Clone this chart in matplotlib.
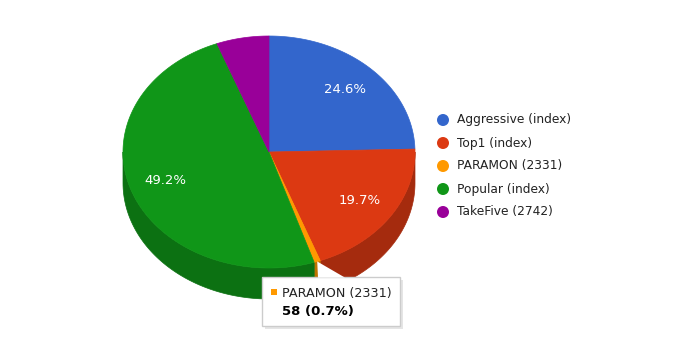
import numpy as np
import matplotlib
matplotlib.use("Agg")
import matplotlib.pyplot as plt
from matplotlib.patches import Polygon, Circle, Rectangle
from matplotlib.colors import to_rgb

names = ['Aggressive (index)', 'Top1 (index)', 'PARAMON (2331)', 'Popular (index)', 'TakeFive (2742)']
values = [2038, 1632, 58, 4077, 481]
colors = ['#3366cc', '#dc3912', '#ff9900', '#109618', '#990099']

# ellipse geometry in pixels
cx, cy, rx, ry, depth = 269, 152, 146, 116, 31

fig = plt.figure(figsize=(6.78, 3.56), dpi=100)
ax = fig.add_axes([0, 0, 1, 1])
ax.set_xlim(0, 678)
ax.set_ylim(356, 0)
ax.axis('off')

def pt(th, dy=0):
    return cx + rx * np.sin(th), cy - ry * np.cos(th) + dy

def dark(c, f=0.75):
    r, g, b = to_rgb(c)
    return (r * f, g * f, b * f)

total = sum(values)
fr = np.array(values) / total
ends = np.cumsum(fr) * 2 * np.pi
starts = ends - fr * 2 * np.pi

# side walls (visible front half only)
for s, e, c in zip(starts, ends, colors):
    a, b = max(s, np.pi / 2), min(e, 3 * np.pi / 2)
    if b <= a:
        continue
    th = np.linspace(a, b, 80)
    top = [pt(t) for t in th]
    bot = [pt(t, depth) for t in th[::-1]]
    ax.add_patch(Polygon(top + bot, closed=True, facecolor=dark(c), edgecolor=dark(c), lw=0.5))

# top faces
for s, e, c in zip(starts, ends, colors):
    th = np.linspace(s, e, max(4, int((e - s) * 60)))
    pts = [(cx, cy)] + [pt(t) for t in th]
    ax.add_patch(Polygon(pts, closed=True, facecolor=c, edgecolor=c, lw=0.5))

# percentage labels
for s, e, f in zip(starts, ends, fr):
    if f < 0.1:
        continue
    m = (s + e) / 2
    x = cx + 0.75 * rx * np.sin(m)
    y = cy - 0.75 * ry * np.cos(m)
    ax.text(x, y, f'{f * 100:.1f}%', color='white', fontsize=9.5,
            ha='center', va='center')

# legend
for i, (n, c) in enumerate(zip(names, colors)):
    y = 120 + i * 23
    ax.add_patch(Circle((443, y), 6, facecolor=c, edgecolor='none'))
    ax.text(457, y, n, fontsize=8.8, color='#222222', ha='left', va='center')

# tooltip for the hovered slice
k = 2
ax.add_patch(Rectangle((265, 280), 138, 49, facecolor='#cccccc', edgecolor='none', alpha=0.5))
ax.add_patch(Rectangle((262, 277), 138, 49, facecolor='white', edgecolor='#cccccc', lw=1))
tip = pt((starts[k] + ends[k]) / 2)
ax.add_patch(Polygon([tip, (345, 277.6), (318, 277.6)], closed=True,
                     facecolor='white', edgecolor='none'))
ax.add_patch(Rectangle((271, 289), 6, 6, facecolor=colors[k], edgecolor='none'))
ax.text(282, 293, names[k], fontsize=9.2, color='#222222', ha='left', va='center')
ax.text(282, 311, f'{values[k]} ({fr[k] * 100:.1f}%)', fontsize=9.5,
        fontweight='bold', color='#000000', ha='left', va='center')

fig.savefig('out.png', dpi=100)
